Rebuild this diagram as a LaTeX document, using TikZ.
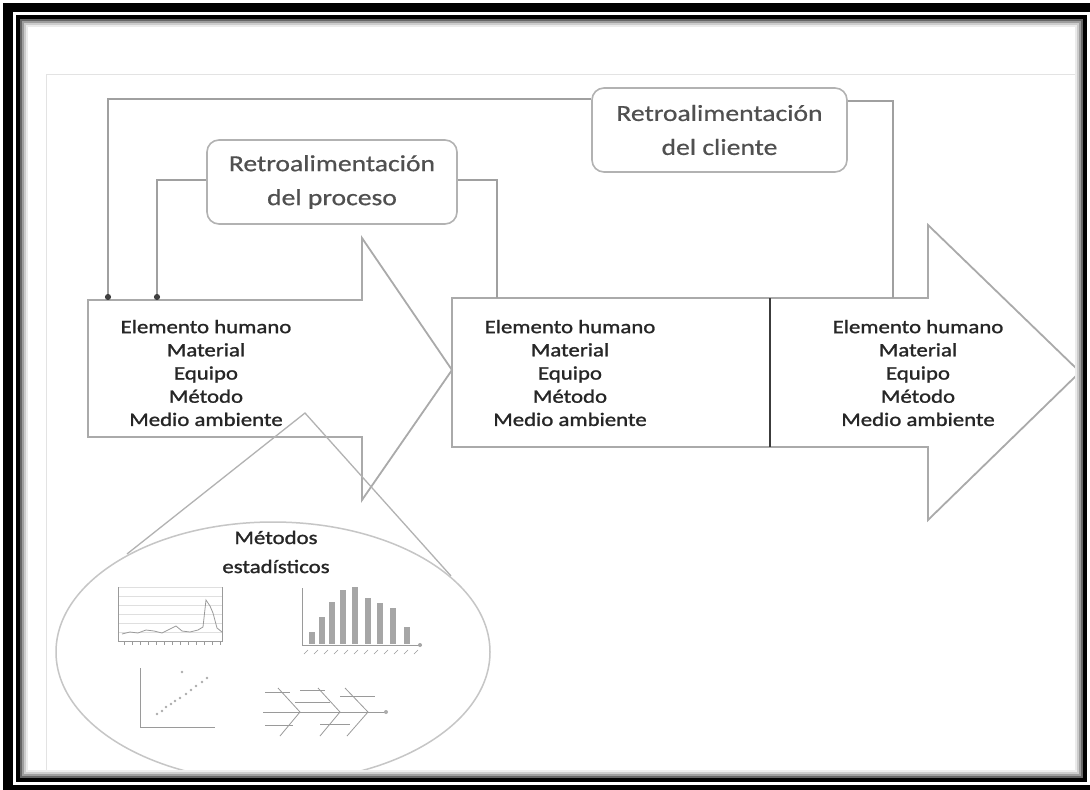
\documentclass[tikz,border=0pt]{standalone}
\usepackage{fontspec}
\setmainfont{Carlito}[FakeStretch=1.2]
\newfontfamily\listfont{Carlito}[FakeStretch=1.2,FakeBold=1.3]
\newfontfamily\boxfont{Carlito}[FakeStretch=1.2,FakeBold=0.7]
\usetikzlibrary{arrows.meta,calc}
\definecolor{ink}{HTML}{262626}
\definecolor{boxink}{HTML}{505050}
\definecolor{edge}{HTML}{AAAAAA}
\definecolor{wire}{HTML}{A0A0A0}
\definecolor{chart}{HTML}{9A9A9A}
\begin{document}
\begin{tikzpicture}[x=1pt,y=-1pt,
  outline/.style={draw=edge,line width=1.8pt,line join=miter},
  fbbox/.style={draw=gray!60,line width=1.6pt,rounded corners=12pt,
    minimum width=250pt,minimum height=84pt,align=center,text=boxink,
    font=\boxfont\fontsize{23}{34}\selectfont},
  fbline/.style={draw=wire,line width=2pt},
  dotend/.style={-{Circle[length=6pt,color=black!75,fill=black!75]}},
  listtext/.style={align=center,text=ink,font=\listfont\fontsize{19}{23.2}\selectfont},
  zoomline/.style={draw=gray!60,line width=1.3pt},
  chartline/.style={draw=chart,line width=0.8pt},
  gridline/.style={draw=gray!25,line width=0.6pt},
]
\useasboundingbox (0,0) rectangle (1090,790);

% page frame: heavy outer band and thin inner line
\fill[black] (3,3) rectangle (1090,790);
\fill[white] (13,12) rectangle (1090,785);
\fill[black] (16,15) rectangle (1087,782);
\fill[white] (20,19) rectangle (1083,778);

% faint edge of the embedded figure
\draw[gray!22,line width=1pt] (46,778) -- (46,74) -- (1083,74);

% process arrow (left)
\draw[outline] (88,300) -- (362,300) -- (362,238) -- (452,370)
  -- (362,500) -- (362,437) -- (88,437) -- cycle;
% product arrow (right), split by a divider
\draw[outline] (452,298) -- (928,298) -- (928,225) -- (1080,372)
  -- (928,520) -- (928,447) -- (452,447) -- cycle;
\draw[ink!90,line width=2.6pt] (770,298) -- (770,447);

\node[listtext] (in) at (206,373) {Elemento humano\\Material\\Equipo\\Método\\Medio ambiente};
\node[listtext] (mid) at (570,373) {Elemento humano\\Material\\Equipo\\Método\\Medio ambiente};
\node[listtext] (out) at (918,373) {Elemento humano\\Material\\Equipo\\Método\\Medio ambiente};

% feedback boxes
\node[fbbox] (pbox) at (332,182) {Retroalimentación\\del proceso};
\node[fbbox,minimum width=255pt] (cbox) at (719.5,130) {Retroalimentación\\del cliente};

% feedback loops
\coordinate (pin) at (157,300);
\coordinate (pout) at (497,298);
\coordinate (cin) at (108,300);
\coordinate (cout) at (893,298);
\draw[fbline,dotend] ($(pbox.west)+(0,-2)$) -| (pin);
\draw[fbline] ($(pbox.east)+(0,-2)$) -| (pout);
\draw[fbline,dotend] ($(cbox.north west)+(0,12)$) -| (cin);
\draw[fbline] ($(cbox.north east)+(0,14)$) -| (cout);

% magnifier lines and the statistics bubble
\coordinate (peak) at (305,413);
\coordinate (zl) at (127,554);
\coordinate (zr) at (451,576);
\draw[zoomline] (zl) -- (peak) -- (zr);
\begin{scope}
  \clip (20,19) rectangle (1083,778);
  \draw[gray!45,line width=1.5pt] (273,652) ellipse [x radius=217, y radius=130];
\end{scope}
\node[listtext,font=\listfont\fontsize{19}{29}\selectfont] (stat) at (276,552) {Métodos\\estadísticos};

% run chart
\foreach \y in {587,596,605,614,623,632}
  \draw[gridline] (118,\y) -- (222,\y);
\draw[chartline] (118,587) -- (118,641) -- (222,641) -- (222,587);
\foreach \x in {124,132,...,220}
  \draw[chartline,line width=0.5pt] (\x,641) -- (\x,645);
\draw[chartline] (122,634) -- (130,632) -- (138,633) -- (146,630) -- (154,631)
  -- (162,633) -- (170,629) -- (176,626) -- (182,631) -- (190,632) -- (198,630)
  -- (203,627) -- (206,600) -- (210,606) -- (213,613) -- (217,628) -- (222,632);

% histogram
\draw[chartline] (302,588) -- (302,645) -- (422,645);
\foreach \x/\t in {312/632,322/617,332/602,343/590,355/587,368/598,380/603,393/608,407/627}
  \fill[gray!70] (\x-3.2,\t) rectangle (\x+3.2,644);
\fill[gray!70] (420,645) circle (2);
\foreach \x in {308,318,...,418}
  \draw[chartline,line width=0.5pt] (\x,650) -- (\x-4,654);

% scatter plot
\draw[chartline] (140,668) -- (140,727) -- (215,727);
\foreach \p in {(157,714),(162,711),(166,707),(171,704),(175,701),(180,698),
  (186,694),(191,690),(196,686),(202,682),(207,678),(182,672)}
  \fill[gray!65] \p circle (1.4);

% cause and effect sketch
\draw[chartline] (263,712) -- (385,712);
\fill[gray!65] (386,712) circle (2);
\foreach \a/\b in {278/300,318/340,345/368}{
  \draw[chartline] (\a,688) -- (\b,712);
  \draw[chartline] (\a+2,736) -- (\b,712);
}
\draw[chartline] (265,692) -- (290,692);
\draw[chartline] (295,702) -- (330,702);
\draw[chartline] (340,696) -- (375,696);
\draw[chartline] (265,725) -- (293,725);
\draw[chartline] (320,724) -- (350,724);
\draw[chartline] (300,690) -- (325,690);

% inner shading along the thin frame line
\foreach \i/\c in {1/60,2/38,3/20,4/8}
  \draw[black!\c,line width=2pt] (19+2*\i,18+2*\i) rectangle (1084-2*\i,779-2*\i);
\draw[black,line width=4pt] (18,17) rectangle (1085,780);
\end{tikzpicture}
\end{document}
